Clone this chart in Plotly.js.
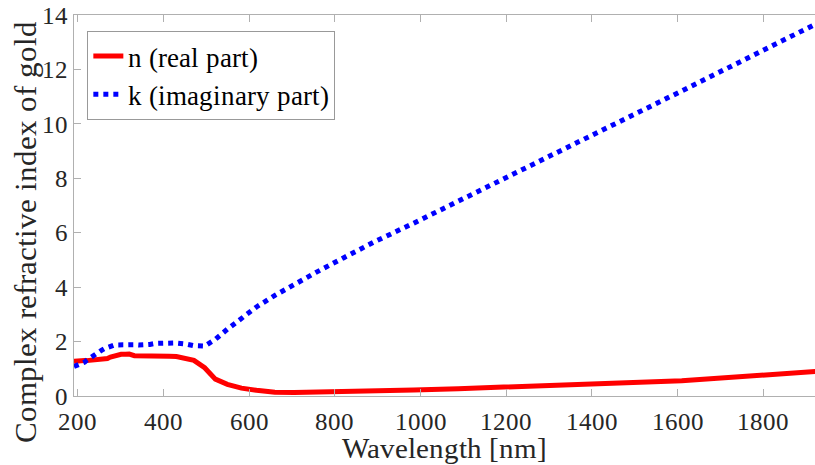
<!DOCTYPE html>
<html>
<head>
<meta charset="utf-8">
<script src="https://cdn.plot.ly/plotly-3.0.1.min.js"></script>
<style>
@font-face { font-family: 'ChartSerif'; src: local('Liberation Serif'), local('LiberationSerif'), local('Liberation Serif Regular'), local('LiberationSerif-Regular'); font-weight: normal; font-style: normal; }
html,body{margin:0;padding:0;overflow:hidden;background:#fff;font-family:'ChartSerif','Liberation Serif',serif}
</style>
</head>
<body>
<div id="chart" style="width:815px;height:465px"></div>
<script>
const wavelength = [191,195,199,203,207,212,216,221,226,231,237,243,249,255,262,269,276,284,292,301,311,320,332,342,354,368,381,397,413,430,451,471,496,521,549,582,617,660,705,756,821,892,984,1088,1216,1393,1610,1937];
const nReal = [1.28,1.29,1.30,1.31,1.31,1.30,1.30,1.30,1.31,1.30,1.32,1.32,1.33,1.33,1.35,1.38,1.43,1.47,1.49,1.53,1.53,1.54,1.48,1.48,1.50,1.48,1.46,1.47,1.46,1.45,1.38,1.31,1.04,0.62,0.43,0.29,0.21,0.14,0.13,0.14,0.16,0.17,0.22,0.27,0.35,0.43,0.56,0.92];
const kImag = [1.084,1.103,1.133,1.162,1.172,1.208,1.246,1.316,1.376,1.438,1.502,1.551,1.607,1.677,1.742,1.796,1.842,1.869,1.878,1.889,1.893,1.898,1.883,1.871,1.866,1.895,1.933,1.952,1.958,1.948,1.914,1.849,1.833,2.081,2.455,2.863,3.272,3.697,4.103,4.542,5.083,5.663,6.350,7.150,8.145,9.519,11.21,13.78];
const xTicks = [200,400,600,800,1000,1200,1400,1600,1800];
const yTicks = [0,2,4,6,8,10,12,14];
const names = ['n (real part)', 'k (imaginary part)'];

const font = "ChartSerif, 'Liberation Serif', 'Times New Roman', serif";
const axisGrey = '#b0b0b0';
const textColor = '#262626';

const traces = [
  {x: wavelength, y: nReal, name: names[0], mode: 'lines',
   line: {color: '#ff0000', width: 5}},
  {x: wavelength, y: kImag, name: names[1], mode: 'lines',
   line: {color: '#0000ff', width: 5, dash: 'dot'}}
];

const layout = {
  width: 815, height: 465,
  margin: {l: 74, r: 0, t: 15, b: 69},
  paper_bgcolor: '#fff', plot_bgcolor: '#fff',
  showlegend: true,
  xaxis: {
    range: [191, 1921], tickvals: xTicks, ticktext: xTicks.map(String),
    showgrid: false, zeroline: false, showline: true, linecolor: axisGrey, linewidth: 1,
    ticks: 'inside', ticklen: 7, tickcolor: axisGrey, mirror: 'ticks',
    ticklabelstandoff: 3,
    tickfont: {family: font, size: 25, color: textColor}
  },
  yaxis: {
    range: [0, 14], tickvals: yTicks, ticktext: yTicks.map(String),
    showgrid: false, zeroline: false, showline: true, linecolor: axisGrey, linewidth: 1,
    ticks: 'inside', ticklen: 7, tickcolor: axisGrey,
    tickfont: {family: font, size: 25, color: textColor}
  },
  legend: {
    x: 0.018, y: 0.958, xanchor: 'left', yanchor: 'top',
    bgcolor: '#fff', bordercolor: '#999', borderwidth: 1,
    font: {family: font, size: 27, color: '#000'},
    itemwidth: 30, tracegroupgap: 0
  },
  annotations: [
    {text: 'Wavelength [nm]', xref: 'paper', yref: 'paper', x: 0.5, y: -0.136,
     xanchor: 'center', yanchor: 'middle', showarrow: false,
     font: {family: font, size: 29, color: textColor}},
    {text: 'Complex refractive index of gold', xref: 'paper', yref: 'paper', x: -0.066, y: 0.43,
     xanchor: 'center', yanchor: 'middle', showarrow: false, textangle: -90,
     font: {family: font, size: 31, color: textColor}}
  ]
};

function refresh(gd) {
  gd.style.display = 'none';
  void gd.offsetHeight;
  gd.style.display = '';
  void gd.offsetHeight;
}

function draw() {
  const gd = document.getElementById('chart');
  Plotly.newPlot(gd, traces, layout, {displayModeBar: false}).then(function () {
    refresh(gd);
    return Plotly.react(gd, traces, layout, {displayModeBar: false});
  }).then(function () {
    refresh(gd);
  });
}

if (document.fonts && document.fonts.load) {
  Promise.all([
    document.fonts.load("25px ChartSerif"),
    document.fonts.load("27px 'Liberation Serif'")
  ]).then(draw, draw);
} else {
  draw();
}
</script>
</body>
</html>
